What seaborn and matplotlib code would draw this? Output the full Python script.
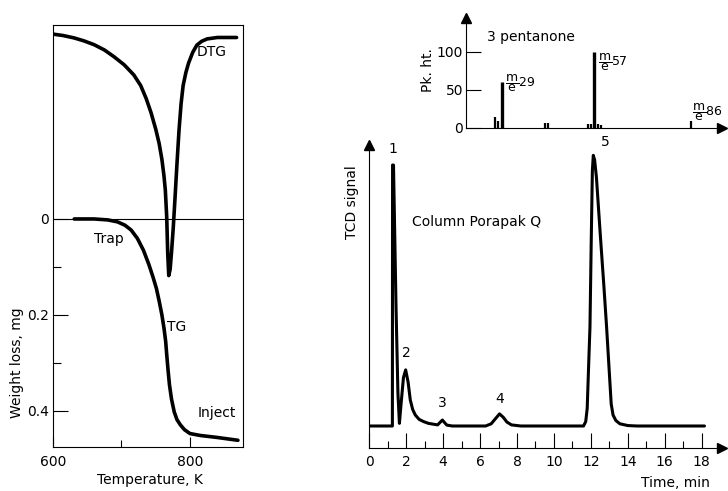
import matplotlib
matplotlib.use("Agg")
import matplotlib.pyplot as plt
import pandas as pd
import seaborn as sns

# ---------------- data: TG / DTG (left panel) ----------------
tg_temp = [631, 660, 680, 694, 705, 714, 723, 732, 740, 746, 751, 755, 759, 762,
           764.5, 766, 768, 770, 773, 777, 781, 786, 792, 800, 815, 839, 870]
tg_loss = [0.0, 0.0, 0.002, 0.006, 0.013, 0.023, 0.04, 0.065, 0.095, 0.121, 0.145,
           0.171, 0.2, 0.227, 0.255, 0.282, 0.315, 0.345, 0.375, 0.402, 0.418,
           0.429, 0.439, 0.447, 0.451, 0.455, 0.461]
dtg_temp = [600, 615, 631, 645, 660, 675, 689, 704, 718, 728, 736, 743, 750, 755,
            759, 762, 764, 766, 767.5, 769, 771, 773, 775.5, 778, 781, 784, 787,
            790, 794, 798, 804, 810, 817, 825, 840, 868]
dtg_value = [-0.385, -0.382, -0.377, -0.371, -0.363, -0.352, -0.338, -0.321, -0.300,
             -0.278, -0.251, -0.222, -0.187, -0.157, -0.124, -0.09, -0.06, -0.005,
             0.072, 0.118, 0.105, 0.07, 0.02, -0.04, -0.115, -0.185, -0.24, -0.278,
             -0.305, -0.325, -0.347, -0.362, -0.370, -0.375, -0.378, -0.378]
temp_major = [600, 800]
temp_minor = [700]
loss_major = [0, 0.2, 0.4]
loss_major_labels = ["0", "0.2", "0.4"]
loss_minor = [0.1, 0.3]

# ---------------- data: mass spectrum (top right) ----------------
ms_mz = [27, 28, 29, 42, 43, 55, 56, 57, 58, 59, 86]
ms_height = [14, 9, 61, 6, 6, 5, 5, 100, 5, 4, 9]
ms_label_mz = [29, 57, 86]
ms_label_height = [61, 100, 9]
ms_label_text = ["29", "57", "86"]
pk_ticks = [0, 50, 100]

# ---------------- data: chromatogram (bottom right) ----------------
chrom_time = [0, 1.25, 1.26, 1.31, 1.45, 1.55, 1.63, 1.72, 1.85, 1.97, 2.1, 2.22,
              2.35, 2.49, 2.7, 2.94, 3.2, 3.48, 3.7, 3.85, 3.96, 4.08, 4.2, 4.5,
              6.3, 6.6, 6.85, 7.05, 7.25, 7.45, 7.7, 8.2, 11.6, 11.72, 11.8, 11.9,
              11.95, 12.02, 12.08, 12.13, 12.2, 12.3, 12.5, 12.7, 12.85, 13.0, 13.1,
              13.2, 13.35, 13.57, 14.0, 14.5, 18.15]
chrom_signal = [1.0, 1.0, 12.86, 12.86, 6.3, 2.5, 1.12, 2.0, 3.2, 3.55, 3.0, 2.18,
                1.75, 1.5, 1.3, 1.2, 1.12, 1.08, 1.05, 1.18, 1.27, 1.15, 1.04, 1.0,
                1.0, 1.1, 1.35, 1.55, 1.4, 1.18, 1.05, 1.0, 1.0, 1.2, 1.8, 4.3,
                5.5, 9.5, 12.6, 13.3, 13.1, 12.3, 9.8, 7.4, 5.5, 3.4, 2.0,
                1.5, 1.25, 1.1, 1.02, 1.0, 1.0]
time_major = [0, 2, 4, 6, 8, 10, 12, 14, 16, 18]
time_minor = [1, 3, 5, 7, 9, 11, 13, 15, 17]
peak_names = ["1", "2", "3", "4", "5"]
peak_time = [1.27, 1.97, 3.96, 7.05, 12.13]
peak_signal = [12.86, 3.55, 1.27, 1.55, 13.3]

# ---------------- style ----------------
sns.set_theme(style="white")
plt.rcParams["font.family"] = ["DejaVu Sans"]
plt.rcParams["font.size"] = 10
plt.rcParams["axes.linewidth"] = 0.8
plt.rcParams["axes.edgecolor"] = "black"
plt.rcParams["text.color"] = "black"
plt.rcParams["axes.labelcolor"] = "black"
plt.rcParams["xtick.color"] = "black"
plt.rcParams["ytick.color"] = "black"

W, H = 728, 491
fig = plt.figure(figsize=(W / 100, H / 100), dpi=100)
fig.patch.set_facecolor("white")


def px_axes(left, top, right, bottom):
    return fig.add_axes([left / W, 1 - bottom / H, (right - left) / W, (bottom - top) / H])


def ftext(x, y, s, **kw):
    fig.text(x / W, 1 - y / H, s, **kw)


PT = 0.72  # points per pixel at 100 dpi

# ---------------- left panel ----------------
axL = px_axes(53, 25, 243, 447)
axL.set_facecolor("white")
tg_df = pd.DataFrame({"T": tg_temp, "loss": tg_loss})
dtg_df = pd.DataFrame({"T": dtg_temp, "v": dtg_value})
sns.lineplot(data=dtg_df, x="T", y="v", ax=axL, color="black", lw=2.6,
             sort=False, estimator=None)
sns.lineplot(data=tg_df, x="T", y="loss", ax=axL, color="black", lw=2.6,
             sort=False, estimator=None)
axL.axhline(0, color="black", lw=0.8)
axL.set_xlim(600, 877.4)
axL.set_ylim(0.475, -0.404)
axL.set_xticks(temp_major)
axL.set_xticklabels([str(t) for t in temp_major])
axL.set_xticks(temp_minor, minor=True)
axL.set_yticks(loss_major)
axL.set_yticklabels(loss_major_labels)
axL.set_yticks(loss_minor, minor=True)
axL.tick_params(axis="x", which="major", direction="in", length=10 * PT, width=0.8,
                pad=6, labelsize=10, bottom=True)
axL.tick_params(axis="x", which="minor", direction="in", length=7 * PT, width=0.8,
                bottom=True)
axL.tick_params(axis="y", which="major", direction="in", length=15 * PT, width=0.8,
                pad=3, labelsize=10, left=True)
axL.tick_params(axis="y", which="minor", direction="in", length=8 * PT, width=0.8,
                left=True)
axL.set_xlabel("")
axL.set_ylabel("")
for s in axL.spines.values():
    s.set_visible(True)
    s.set_linewidth(0.8)
    s.set_color("black")
axL.text(681, 0.042, "Trap", ha="center", va="center", fontsize=10)
ftext(212, 52, "DTG", ha="center", va="center", fontsize=10)
ftext(177, 327, "TG", ha="center", va="center", fontsize=10)
ftext(217, 413, "Inject", ha="center", va="center", fontsize=10)
ftext(17, 363, "Weight loss, mg", rotation=90, ha="center", va="center", fontsize=10)
ftext(150, 480, "Temperature, K", ha="center", va="center", fontsize=10)

# ---------------- mass spectrum ----------------
axM = px_axes(466, 18, 722, 128)
axM.set_facecolor("none")
axM.vlines(ms_mz, 0, ms_height, colors="black",
           linewidths=[1.6 if h < 50 else 2.4 for h in ms_height])
axM.set_xlim(18.23, 95.49)
axM.set_ylim(0, 144.7)
axM.set_xticks([])
axM.set_yticks(pk_ticks)
axM.set_yticklabels([str(v) for v in pk_ticks])
axM.tick_params(axis="y", direction="in", length=15 * PT, width=0.8, pad=2,
                labelsize=10, left=True)
for side in ["top", "right"]:
    axM.spines[side].set_visible(False)
for side in ["left", "bottom"]:
    axM.spines[side].set_linewidth(0.8)
axM.plot(1, 0, ">", color="black", ms=7, transform=axM.transAxes, clip_on=False)
axM.plot(0, 1, "^", color="black", ms=7, transform=axM.transAxes, clip_on=False)
offsets = [(3, -1), (4, -10), (1, 9)]
for mz, h, lab, off in zip(ms_label_mz, ms_label_height, ms_label_text, offsets):
    axM.annotate(r"$\dfrac{\mathrm{m}}{\mathrm{e}}$" + lab, xy=(mz, h), xytext=off,
                 textcoords="offset pixels", ha="left", va="center", fontsize=9)
ftext(487, 37, "3 pentanone", ha="left", va="center", fontsize=10)
ftext(428, 70, "Pk. ht.", rotation=90, ha="center", va="center", fontsize=10)

# ---------------- chromatogram ----------------
axC = px_axes(369.3, 145, 722, 448)
axC.set_facecolor("none")
ch_df = pd.DataFrame({"t": chrom_time, "s": chrom_signal})
sns.lineplot(data=ch_df, x="t", y="s", ax=axC, color="black", lw=2.2,
             sort=False, estimator=None)
axC.set_xlim(0, 19.1)
axC.set_ylim(0, 13.77)
axC.set_xticks(time_major)
axC.set_xticklabels([str(t) for t in time_major])
axC.set_xticks(time_minor, minor=True)
axC.set_yticks([])
axC.tick_params(axis="x", which="major", direction="in", length=15 * PT, width=0.8,
                pad=5, labelsize=10, bottom=True)
axC.tick_params(axis="x", which="minor", direction="in", length=7 * PT, width=0.8,
                bottom=True)
axC.set_xlabel("")
axC.set_ylabel("")
for side in ["top", "right"]:
    axC.spines[side].set_visible(False)
for side in ["left", "bottom"]:
    axC.spines[side].set_linewidth(0.8)
axC.plot(1, 0, ">", color="black", ms=7, transform=axC.transAxes, clip_on=False)
axC.plot(0, 1, "^", color="black", ms=7, transform=axC.transAxes, clip_on=False)
peak_offsets = [(0, 9), (1, 10), (0, 10), (0, 8), (12, 6)]
for name, t, s, off in zip(peak_names, peak_time, peak_signal, peak_offsets):
    axC.annotate(name, xy=(t, s), xytext=off, textcoords="offset pixels",
                 ha="center", va="bottom", fontsize=10)
ftext(412, 222, "Column Porapak Q", ha="left", va="center", fontsize=10)
ftext(352, 202, "TCD signal", rotation=90, ha="center", va="center", fontsize=10)
ftext(675, 483, "Time, min", ha="center", va="center", fontsize=10)

fig.savefig("out.png", dpi=100, facecolor="white")
